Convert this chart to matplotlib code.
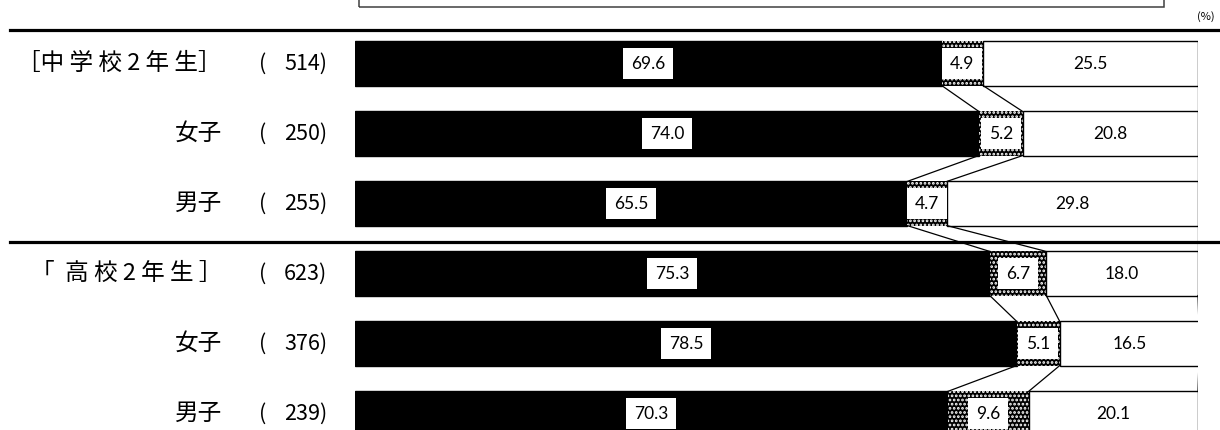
import matplotlib
matplotlib.use("Agg")
import matplotlib.pyplot as plt
import matplotlib.transforms as mtransforms
from matplotlib.lines import Line2D
from matplotlib.patches import Rectangle
import numpy as np

categories = ["［中 学 校 2 年 生］", "女子", "男子", "「  高 校 2 年 生 ］", "女子", "男子"]
counts = [514, 250, 255, 623, 376, 239]
yes_vals = [69.6, 74.0, 65.5, 75.3, 78.5, 70.3]
mid_vals = [4.9, 5.2, 4.7, 6.7, 5.1, 9.6]
no_vals = [25.5, 20.8, 29.8, 18.0, 16.5, 20.1]

W, H = 1220, 430
jp = ["Noto Sans CJK JP", "DejaVu Sans"]
narrow = ["Liberation Sans Narrow", "Noto Sans CJK JP", "DejaVu Sans"]
numfont = "Lato"
plt.rcParams["hatch.linewidth"] = 1.3


def fx(px):
    return px / W


def fy(py):
    return 1 - py / H


fig = plt.figure(figsize=(W / 100, H / 100), dpi=100)

# bar area: 0% at x=355px, 100% at x=1198px, rows every 70px from y=63.5px
ax = fig.add_axes([fx(355), 0, fx(1198) - fx(355), 1])
ax.set_xlim(0, 100)
ax.set_ylim((H - 63.5) / 70, -63.5 / 70)
ax.axis("off")

rows = np.arange(len(categories))
bar_h = 0.63
yes = np.array(yes_vals)
mid = np.array(mid_vals)
no = np.array(no_vals)

ax.barh(rows, yes, height=bar_h, color="black", edgecolor="black", lw=1)
ax.barh(rows, mid, left=yes, height=bar_h, color="black", edgecolor="white",
        hatch="....", lw=0)
ax.barh(rows, no, left=yes + mid, height=bar_h, color="white", edgecolor="black", lw=1)

# series lines
for cum in [yes, yes + mid, yes + mid + no]:
    for i in rows[:-1]:
        ax.plot([cum[i], cum[i + 1]], [i + bar_h / 2, i + 1 - bar_h / 2],
                color="black", lw=0.9)

box = dict(boxstyle="square,pad=0.45", fc="white", ec="none")
for i in rows:
    ax.text(yes[i] / 2, i, f"{yes[i]:.1f}", ha="center", va="center",
            fontsize=12.5, family=numfont, bbox=box)
    ax.text(yes[i] + mid[i] / 2, i, f"{mid[i]:.1f}", ha="center", va="center",
            fontsize=12.5, family=numfont, bbox=box)
    ax.text(yes[i] + mid[i] + no[i] / 2, i, f"{no[i]:.1f}", ha="center", va="center",
            fontsize=12.5, family=numfont)

# left labels
tr = mtransforms.blended_transform_factory(fig.transFigure, ax.transData)
for i in rows:
    ax.text(fx(222), i, categories[i], ha="right", va="center", fontsize=17,
            family=jp, transform=tr, clip_on=False)
    ax.text(fx(259), i, "(", ha="left", va="center", fontsize=15.5,
            family=narrow, transform=tr, clip_on=False)
    ax.text(fx(327), i, f"{counts[i]})", ha="right", va="center", fontsize=15.5,
            family=narrow, transform=tr, clip_on=False)

# group separators
for py in [30, 242]:
    fig.add_artist(Line2D([fx(10), fx(1220)], [fy(py), fy(py)], color="black", lw=2.3))

# legend frame (cut off at top)
fig.add_artist(Rectangle((fx(359), fy(7)), fx(1164) - fx(359), fy(-20) - fy(7),
                         transform=fig.transFigure, fill=False, ec="#404040", lw=1.1))
fig.text(fx(1197), fy(17), "(%)", ha="left", va="center", fontsize=8, family=narrow)

fig.savefig("out.png", dpi=100)
